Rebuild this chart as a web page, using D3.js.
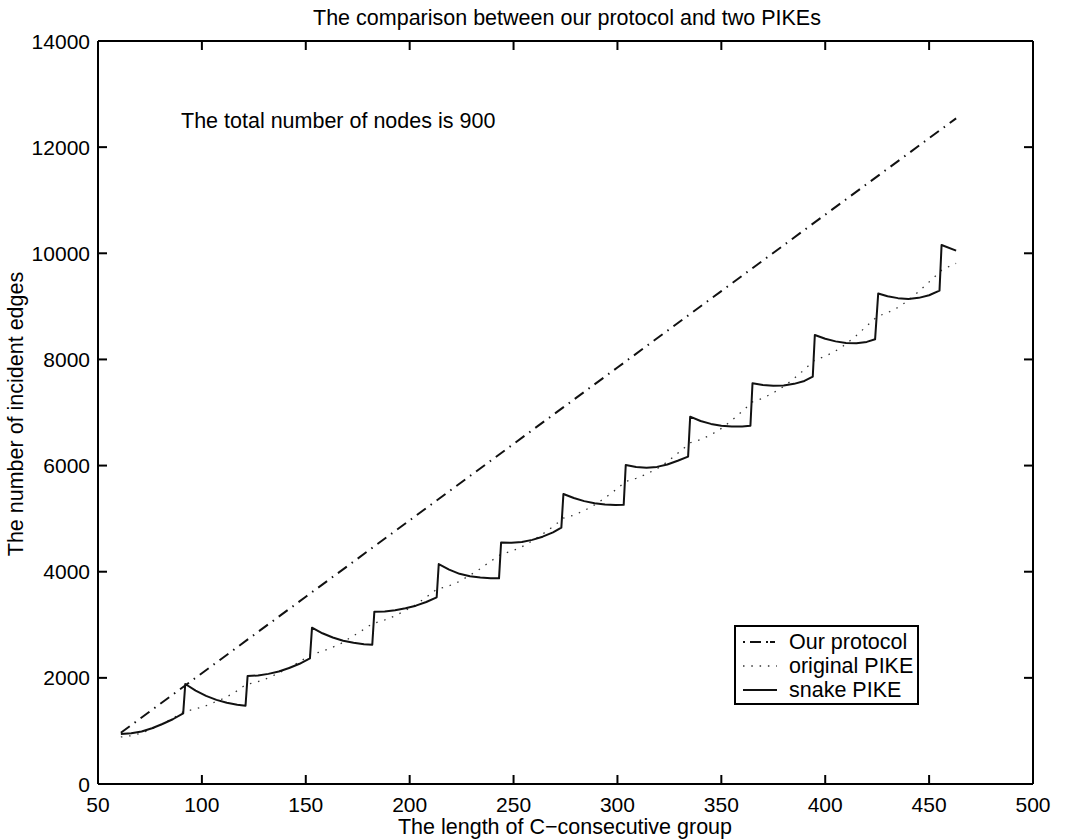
<!DOCTYPE html>
<meta charset="utf-8">
<style>
body { margin: 0; background: #fff; }
text { font-family: "Liberation Sans", Arial, sans-serif; fill: #000; }
.frame line { stroke: #000; stroke-width: 2px; }
.tick-lab { font-size: 21px; }
</style>
<svg width="1074" height="840"></svg>
<script src="https://d3js.org/d3.v7.min.js"></script>
<script>

// axis ticks
var xTicks = [50, 100, 150, 200, 250, 300, 350, 400, 450, 500];
var yTicks = [0, 2000, 4000, 6000, 8000, 10000, 12000, 14000];

// Our protocol (dash-dot)
var protocolX = [61, 100, 150, 200, 250, 300, 350, 400, 450, 463];
var protocolY = [965, 2088, 3528, 4968, 6408, 7848, 9288, 10728, 12168, 12542];

// original PIKE (dotted)
var origX = [61, 66, 71, 76, 81, 86, 91, 96, 101, 106, 111, 116, 121,
  127, 132, 137, 142, 147, 152, 157, 162, 167, 172, 177, 182,
  188, 193, 198, 203, 208, 213, 218, 223, 228, 233, 238, 244,
  249, 254, 259, 264, 269, 274, 279, 284, 289, 294, 299, 304,
  309, 314, 319, 324, 329, 335, 340, 345, 350, 355, 360, 365,
  370, 375, 380, 385, 390, 395, 400, 405, 410, 415, 420, 425,
  430, 435, 440, 445, 450, 456, 460, 463];
var origY = [886, 910, 960, 1040, 1130, 1240, 1360, 1405, 1460, 1540, 1620, 1730, 1870,
  1930, 2000, 2090, 2190, 2300, 2430, 2490, 2560, 2650, 2770, 2890, 3020,
  3090, 3170, 3270, 3380, 3520, 3670, 3720, 3800, 3910, 4030, 4170, 4330,
  4385, 4470, 4580, 4710, 4850, 5010, 5065, 5150, 5260, 5390, 5540, 5700,
  5760, 5840, 5940, 6070, 6230, 6430, 6490, 6580, 6700, 6850, 7020, 7200,
  7270, 7370, 7490, 7640, 7810, 7990, 8060, 8160, 8290, 8450, 8630, 8810,
  8880, 8980, 9110, 9280, 9460, 9680, 9760, 9810];

// snake PIKE (solid)
var snakeX = [61, 66, 71, 76, 81, 86, 91,
  92, 97, 102, 107, 112, 117, 121,
  122, 127, 132, 137, 142, 147, 152,
  153, 158, 163, 168, 173, 178, 182,
  183, 188, 193, 198, 203, 208, 213,
  214, 219, 224, 229, 234, 239, 243,
  244, 249, 254, 259, 264, 269, 273,
  274, 279, 284, 289, 294, 299, 303,
  304, 309, 314, 319, 324, 329, 334,
  335, 340, 345, 350, 355, 360, 364,
  365, 370, 375, 380, 385, 390, 394,
  395, 400, 405, 410, 415, 420, 424,
  425.5, 430, 435, 440, 445, 450, 455,
  456, 463];
var snakeY = [942, 955, 990, 1050, 1130, 1220, 1332,
  1884, 1760, 1660, 1585, 1530, 1495, 1476,
  2035, 2045, 2075, 2120, 2185, 2265, 2367,
  2946, 2840, 2760, 2700, 2660, 2635, 2625,
  3247, 3252, 3275, 3310, 3360, 3430, 3518,
  4145, 4040, 3960, 3915, 3890, 3878, 3875,
  4551, 4545, 4560, 4600, 4660, 4740, 4830,
  5464, 5390, 5330, 5290, 5265, 5255, 5260,
  6011, 5975, 5960, 5975, 6020, 6090, 6168,
  6921, 6840, 6785, 6750, 6735, 6738, 6750,
  7550, 7520, 7505, 7510, 7540, 7595, 7674,
  8460, 8390, 8340, 8310, 8305, 8330, 8379,
  9243, 9190, 9155, 9140, 9160, 9210, 9296,
  10157, 10049];

var svg = d3.select("svg");

var x = d3.scaleLinear().domain([50, 500]).range([98, 1033]);
var y = d3.scaleLinear().domain([0, 14000]).range([784, 41]);

var line = d3.line()
    .x(function(d) { return x(d[0]); })
    .y(function(d) { return y(d[1]); });

function pairs(xs, ys) { return xs.map(function(v, i) { return [v, ys[i]]; }); }

// series
svg.append("path")
    .attr("d", line(pairs(origX, origY)))
    .attr("fill", "none")
    .attr("stroke", "#333")
    .attr("stroke-width", 1.3)
    .attr("stroke-dasharray", "1.5,6.8");

svg.append("path")
    .attr("d", line(pairs(protocolX, protocolY)))
    .attr("fill", "none")
    .attr("stroke", "#111")
    .attr("stroke-width", 2)
    .attr("stroke-dasharray", "11,6,1.5,6");

svg.append("path")
    .attr("d", line(pairs(snakeX, snakeY)))
    .attr("fill", "none")
    .attr("stroke", "#111")
    .attr("stroke-width", 2)
    .attr("stroke-linejoin", "round");

// box + inward ticks
var frame = svg.append("g").attr("class", "frame");
var x0 = x.range()[0], x1 = x.range()[1], y0 = y.range()[0], y1 = y.range()[1];
frame.append("line").attr("x1", x0).attr("x2", x1).attr("y1", y0).attr("y2", y0);
frame.append("line").attr("x1", x0).attr("x2", x1).attr("y1", y1).attr("y2", y1);
frame.append("line").attr("x1", x0).attr("x2", x0).attr("y1", y0).attr("y2", y1);
frame.append("line").attr("x1", x1).attr("x2", x1).attr("y1", y0).attr("y2", y1);

var tl = 9;
xTicks.forEach(function(t) {
  frame.append("line").attr("x1", x(t)).attr("x2", x(t)).attr("y1", y0).attr("y2", y0 - tl);
  frame.append("line").attr("x1", x(t)).attr("x2", x(t)).attr("y1", y1).attr("y2", y1 + tl);
});
yTicks.forEach(function(t) {
  frame.append("line").attr("x1", x0).attr("x2", x0 + tl).attr("y1", y(t)).attr("y2", y(t));
  frame.append("line").attr("x1", x1).attr("x2", x1 - tl).attr("y1", y(t)).attr("y2", y(t));
});

svg.append("g").selectAll("text")
  .data(xTicks)
  .enter().append("text")
    .attr("class", "tick-lab")
    .attr("x", x)
    .attr("y", 812)
    .attr("text-anchor", "middle")
    .text(function(d) { return d; });

svg.append("g").selectAll("text")
  .data(yTicks)
  .enter().append("text")
    .attr("class", "tick-lab")
    .attr("x", 90)
    .attr("y", function(d) { return y(d) + 7.5; })
    .attr("text-anchor", "end")
    .text(function(d) { return d; });

// titles
svg.append("text")
    .attr("x", 567).attr("y", 25)
    .attr("text-anchor", "middle")
    .style("font-size", "21.5px")
    .text("The comparison between our protocol and two PIKEs");

svg.append("text")
    .attr("x", 565).attr("y", 834)
    .attr("text-anchor", "middle")
    .style("font-size", "21.5px")
    .text("The length of C\u2212consecutive group");

svg.append("text")
    .attr("transform", "translate(23,414) rotate(-90)")
    .attr("text-anchor", "middle")
    .style("font-size", "21.5px")
    .text("The number of incident edges");

svg.append("text")
    .attr("x", 181).attr("y", 128)
    .style("font-size", "21.5px")
    .text("The total number of nodes is 900");

// legend
var legend = svg.append("g").attr("transform", "translate(735,626)");
legend.append("rect")
    .attr("width", 183).attr("height", 78)
    .attr("fill", "#fff")
    .attr("stroke", "#000")
    .attr("stroke-width", 2);

var legendItems = [
  { name: "Our protocol", dash: "2,5,11,5,2", w: 2, c: "#111" },
  { name: "original PIKE", dash: "1.5,6.8", w: 1.3, c: "#333" },
  { name: "snake PIKE", dash: null, w: 2, c: "#111" }
];
legendItems.forEach(function(d, i) {
  var cy = 16 + i * 24;
  legend.append("line")
      .attr("x1", 8).attr("x2", 42)
      .attr("y1", cy).attr("y2", cy)
      .attr("stroke", d.c)
      .attr("stroke-width", d.w)
      .attr("stroke-dasharray", d.dash);
  legend.append("text")
      .attr("x", 54).attr("y", cy + 7)
      .style("font-size", "21.5px")
      .text(d.name);
});

</script>
